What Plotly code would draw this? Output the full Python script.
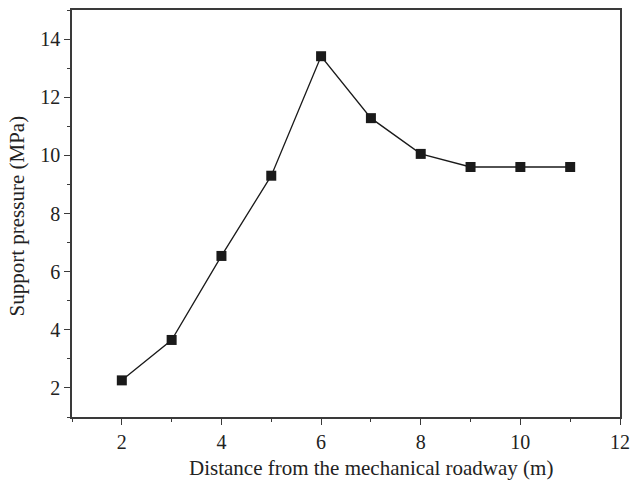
import plotly.graph_objects as go

# Support pressure measured at each distance from the mechanical roadway
distance_m = [2, 3, 4, 5, 6, 7, 8, 9, 10, 11]
pressure_mpa = [2.26, 3.65, 6.54, 9.30, 13.41, 11.28, 10.05, 9.60, 9.60, 9.60]

x_ticks = [2, 4, 6, 8, 10, 12]
y_ticks = [2, 4, 6, 8, 10, 12, 14]

x_title = "Distance from the mechanical roadway (m)"
y_title = "Support pressure (MPa)"

FONT = "Liberation Serif, Times New Roman, serif"
AXIS_COLOR = "#3a3a3a"
TEXT_COLOR = "#222"

fig = go.Figure(
    go.Scatter(
        x=distance_m,
        y=pressure_mpa,
        mode="lines+markers",
        line=dict(color="#1a1a1a", width=1.3),
        marker=dict(symbol="square", size=10, color="#1a1a1a",
                    line=dict(width=0)),
        showlegend=False,
    )
)

axis_common = dict(
    showline=True,
    linecolor=AXIS_COLOR,
    linewidth=1.5,
    mirror=True,
    showgrid=False,
    zeroline=False,
    automargin=False,
    ticks="outside",
    ticklen=6,
    tickwidth=1.3,
    tickcolor=AXIS_COLOR,
    tickfont=dict(family=FONT, size=20, color=TEXT_COLOR),
    minor=dict(ticks="outside", ticklen=3, tickwidth=1.2,
               tickcolor=AXIS_COLOR, dtick=1, tick0=1, showgrid=False),
)

fig.update_xaxes(range=[1, 12], tickvals=x_ticks, **axis_common)
fig.update_yaxes(range=[1, 15], tickvals=y_ticks, **axis_common)

# Axis titles placed as annotations for exact positioning
title_font = dict(family=FONT, size=21, color=TEXT_COLOR)
fig.add_annotation(
    text=x_title, xref="paper", yref="paper", x=0.5, y=0,
    xanchor="center", yanchor="middle", xshift=25, yshift=-51,
    showarrow=False, font=title_font,
)
fig.add_annotation(
    text=y_title, xref="paper", yref="paper", x=0, y=0.5,
    xanchor="center", yanchor="middle", xshift=-56, yshift=-3,
    textangle=-90, showarrow=False, font=title_font,
)

fig.update_layout(
    width=631,
    height=480,
    margin=dict(l=72, r=11, t=10, b=63),
    plot_bgcolor="white",
    paper_bgcolor="white",
)

fig.write_html("out.html")
